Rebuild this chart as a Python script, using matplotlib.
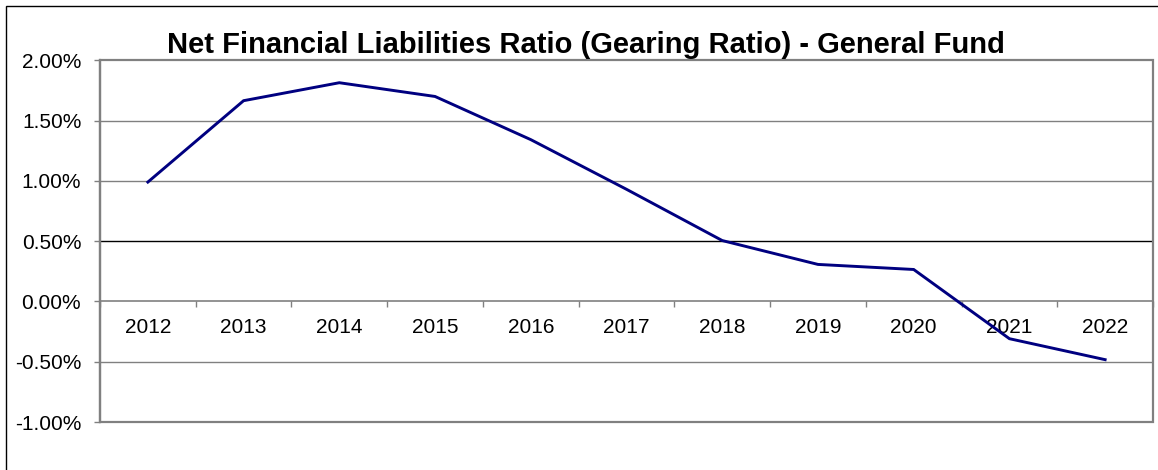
import matplotlib
matplotlib.use("Agg")
import matplotlib.pyplot as plt
from matplotlib.ticker import PercentFormatter, FixedLocator, NullFormatter
from matplotlib.patches import Rectangle

plt.rcParams["font.family"] = ["Liberation Sans", "DejaVu Sans"]
plt.rcParams["axes.unicode_minus"] = False

# Gearing ratio by financial year (percent)
years = ["2012", "2013", "2014", "2015", "2016", "2017",
         "2018", "2019", "2020", "2021", "2022"]
ratio_pct = [0.99, 1.665, 1.814, 1.70, 1.342, 0.93,
             0.505, 0.307, 0.265, -0.309, -0.483]
y_ticks = [-1.0, -0.5, 0.0, 0.5, 1.0, 1.5, 2.0]
title = "Net Financial Liabilities Ratio (Gearing Ratio) - General Fund"

W, H = 1158, 470
fig = plt.figure(figsize=(W / 100, H / 100), dpi=100)
fig.patch.set_facecolor("white")

# outer chart-area frame (runs off the right and bottom edges)
fig.patches.append(Rectangle((6 / W, -0.2), 1.3, 1.2 - 6 / H,
                             transform=fig.transFigure, fill=False,
                             edgecolor="black", linewidth=1.0))

ax = fig.add_axes([100 / W, 48 / H, 1053 / W, (422 - 60.3) / H])
x = list(range(len(years)))
ax.set_xlim(-0.5, len(years) - 0.5)
ax.set_ylim(-1.0, 2.0)

grey = "#808080"
for v in y_ticks:
    if v in (-1.0, 0.0, 2.0):
        continue
    ax.axhline(v, color="black" if v == 0.5 else grey, linewidth=1.0, zorder=1)

ax.plot(x, ratio_pct, color="#000080", linewidth=2.1, zorder=3,
        solid_joinstyle="miter")

# plot-area border
ax.add_patch(Rectangle((0, 0), 1, 1, transform=ax.transAxes, fill=False,
                       edgecolor=grey, linewidth=1.6, zorder=4, clip_on=False))

for side in ("top", "right"):
    ax.spines[side].set_visible(False)
ax.spines["left"].set_color(grey)
ax.spines["left"].set_linewidth(1.6)
ax.spines["bottom"].set_position(("data", 0))
ax.spines["bottom"].set_color(grey)
ax.spines["bottom"].set_linewidth(1.2)

ax.yaxis.set_major_locator(FixedLocator(y_ticks))
ax.yaxis.set_major_formatter(PercentFormatter(xmax=100, decimals=2))
ax.tick_params(axis="y", direction="out", length=4.5, width=1.0, color=grey,
               pad=9, labelsize=15)

ax.set_xticks([i + 0.5 for i in x[:-1]] + [-0.5, len(years) - 0.5])
ax.xaxis.set_major_formatter(NullFormatter())
ax.set_xticks(x, minor=True)
ax.set_xticklabels(years, minor=True)
ax.tick_params(axis="x", which="major", direction="out", length=4.5,
               width=1.0, color=grey)
ax.tick_params(axis="x", which="minor", length=0, pad=12, labelsize=15)

fig.text(586 / W, 1 - 53 / H, title, ha="center", va="baseline",
         fontsize=21, fontweight="bold")

fig.savefig("out.png", dpi=100)
